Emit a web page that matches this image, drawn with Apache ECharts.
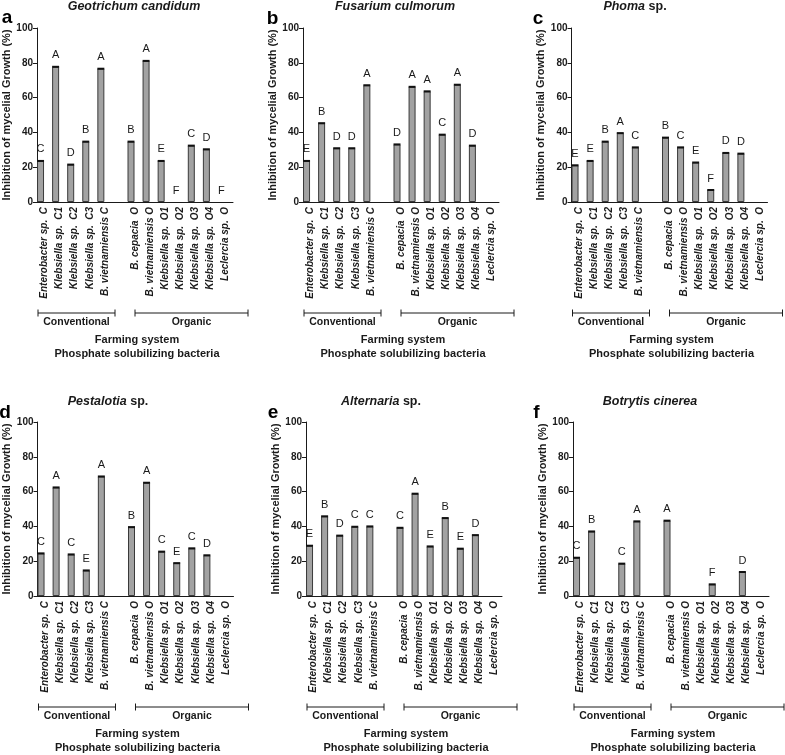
<!DOCTYPE html>
<html><head><meta charset="utf-8">
<script src="https://cdn.jsdelivr.net/npm/echarts@6/dist/echarts.min.js"></script>
<style>html,body{margin:0;padding:0;background:#fff}#c{width:785px;height:755px}</style>
</head><body><div id="c"></div>
<script>
// ---------- data ----------
const categories = ['Enterobacter sp.  C','Klebsiella sp.  C1','Klebsiella sp.  C2','Klebsiella sp.  C3','B. vietnamiensis C','',
  'B. cepacia  O','B. vietnamiensis O','Klebsiella sp.  O1','Klebsiella sp.  O2','Klebsiella sp.  O3','Klebsiella sp.  O4','Leclercia sp.  O'];
const yTicks = [0, 20, 40, 60, 80, 100];
const groupLabels = ['Conventional', 'Organic'];
const xTitleLines = ['Farming system', 'Phosphate solubilizing bacteria'];
const yTitle = 'Inhibition of mycelial Growth (%)';

const geotrichumValues  = [23.6, 77.7, 21.5, 34.7, 76.6, null, 34.7, 81.1, 23.6, 0, 32.4, 30.3, 0];
const geotrichumLetters = ['C','A','D','B','A','', 'B','A','E','F','C','D','F'];
const fusariumValues    = [23.6, 45.3, 30.9, 30.9, 67.1, null, 33.1, 66.2, 63.6, 38.7, 67.4, 32.4, 0];
const fusariumLetters   = ['E','B','D','D','A','', 'D','A','A','C','A','D',''];
const phomaValues       = [21.1, 23.6, 34.7, 39.6, 31.4, null, 37.0, 31.4, 22.7, 6.9, 28.2, 27.8, 0];
const phomaLetters      = ['E','E','B','A','C','', 'B','C','E','F','D','D',''];
const pestalotiaValues  = [24.5, 62.4, 23.9, 14.7, 68.7, null, 39.6, 65.1, 25.5, 18.9, 27.4, 23.4, 0];
const pestalotiaLetters = ['C','A','C','E','A','', 'B','A','C','E','C','D',''];
const alternariaValues  = [28.9, 45.8, 34.7, 39.8, 40.0, null, 39.2, 58.8, 28.5, 44.8, 27.2, 35.0, 0];
const alternariaLetters = ['E','B','D','C','C','', 'C','A','E','B','E','D',''];
const botrytisValues    = [22.0, 37.1, 0, 18.6, 42.9, null, 43.3, 0, 0, 6.7, 0, 13.8, 0];
const botrytisLetters   = ['C','B','','C','A','', 'A','','','F','','D',''];

const panelKeys   = ['a','b','c','d','e','f'];
const panelTitles = ['{i|Geotrichum candidum}', '{i|Fusarium culmorum}', '{i|Phoma}{n| sp.}',
                     '{i|Pestalotia}{n| sp.}', '{i|Alternaria}{n| sp.}', '{i|Botrytis cinerea}'];
const panelValues  = [geotrichumValues, fusariumValues, phomaValues, pestalotiaValues, alternariaValues, botrytisValues];
const panelLetters = [geotrichumLetters, fusariumLetters, phomaLetters, pestalotiaLetters, alternariaLetters, botrytisLetters];

// ---------- layout ----------
const FONT = '"Liberation Sans", Arial, sans-serif';
const gridLefts = [37, 303, 571.5, 37.5, 306, 573];
const rowTops = [28, 422];
const plotW = 196, plotH = 174;
const nameGaps = [22, 18, 19, 21, 23, 20];
const titleX = [134, 395, 635, 108, 381, 650];
const titleY = [7, 401.5];
const letterPos = [[7,18],[272.5,19],[538,19],[5,412.5],[273,412.5],[536.5,412.5]];

const grids = [], xAxes = [], yAxes = [], series = [], graphics = [];
const ink = '#1a1a1a';

panelKeys.forEach((k, p) => {
  const row = p < 3 ? 0 : 1;
  const L = gridLefts[p], T = rowTops[row], B = T + plotH;
  grids.push({left: L, top: T, width: plotW, height: plotH, containLabel: false, outerBoundsMode: 'none'});
  xAxes.push({
    type: 'category', gridIndex: p, data: categories,
    axisLine: {lineStyle: {color: ink, width: 1}},
    axisTick: {alignWithLabel: true, length: 4, lineStyle: {color: ink}},
    axisLabel: {rotate: 90, interval: 0, margin: 5, fontFamily: FONT, fontSize: 10, fontWeight: 'bold', fontStyle: 'italic', color: ink}
  });
  yAxes.push({
    type: 'value', gridIndex: p, min: yTicks[0], max: yTicks[yTicks.length - 1], interval: yTicks[1] - yTicks[0],
    name: yTitle, nameLocation: 'middle', nameGap: nameGaps[p], nameRotate: 90,
    nameTextStyle: {fontFamily: FONT, fontSize: 11, fontWeight: 'bold', color: ink},
    axisLine: {show: true, lineStyle: {color: ink, width: 1}},
    axisTick: {show: true, length: 4, lineStyle: {color: ink}},
    axisLabel: {fontFamily: FONT, fontSize: 10, fontWeight: 'bold', color: ink, margin: 4},
    splitLine: {show: false}
  });
  const vals = panelValues[p], lets = panelLetters[p];
  series.push({
    type: 'bar', xAxisIndex: p, yAxisIndex: p, barWidth: 7, barGap: '100%',
    data: vals.map(v => v === 0 ? {value: 0, itemStyle: {borderWidth: 0, color: 'rgba(0,0,0,0)'}} : v),
    itemStyle: {color: '#a2a2a2', borderColor: '#3a3a3a', borderWidth: 1},
    label: {show: true, position: 'top', distance: 6, fontFamily: FONT, fontSize: 11, color: ink,
      formatter: (d) => lets[d.dataIndex] || ''},
    silent: true, animation: false
  });
  series.push({
    type: 'bar', xAxisIndex: p, yAxisIndex: p, data: vals.map(() => null), barWidth: 1, barGap: '100%',
    silent: true, animation: false
  });
  series.push({
    type: 'custom', xAxisIndex: p, yAxisIndex: p, z: 5, silent: true, animation: false,
    data: vals.map((v, i) => [i, v]),
    renderItem: (params, api) => {
      const v = api.value(1);
      if (!v) return null;
      const pt = api.coord([api.value(0), v]);
      return {type: 'rect', shape: {x: pt[0] - 7.5, y: pt[1] - 1, width: 7, height: 2}, style: {fill: '#111'}};
    }
  });

  // panel title & letter
  graphics.push({type: 'text', x: titleX[p], y: titleY[row], silent: true,
    style: {text: panelTitles[p], align: 'center', verticalAlign: 'middle', fill: ink,
      rich: {i: {fontFamily: FONT, fontSize: 12.5, fontWeight: 'bold', fontStyle: 'italic', fill: ink},
             n: {fontFamily: FONT, fontSize: 12.5, fontWeight: 'bold', fill: ink}}}});
  graphics.push({type: 'text', x: letterPos[p][0], y: letterPos[p][1], silent: true,
    style: {text: k, align: 'center', verticalAlign: 'middle', fill: '#000', font: 'bold 19px ' + FONT}});

  // group brackets
  const by = B + 111;
  const brackets = [[L + 1, L + 78], [L + 98, L + 211]];
  brackets.forEach((br, j) => {
    graphics.push({type: 'line', silent: true, shape: {x1: br[0], y1: by, x2: br[1], y2: by}, style: {stroke: ink, lineWidth: 1}});
    graphics.push({type: 'line', silent: true, shape: {x1: br[0], y1: by - 3.5, x2: br[0], y2: by + 3.5}, style: {stroke: ink, lineWidth: 1}});
    graphics.push({type: 'line', silent: true, shape: {x1: br[1], y1: by - 3.5, x2: br[1], y2: by + 3.5}, style: {stroke: ink, lineWidth: 1}});
    graphics.push({type: 'text', x: (br[0] + br[1]) / 2, y: by + 9, silent: true,
      style: {text: groupLabels[j], align: 'center', verticalAlign: 'middle', fill: ink, font: 'bold 10.5px ' + FONT}});
  });
  graphics.push({type: 'text', x: L + 100, y: B + 138, silent: true,
    style: {text: xTitleLines[0], align: 'center', verticalAlign: 'middle', fill: ink, font: 'bold 11px ' + FONT}});
  graphics.push({type: 'text', x: L + 100, y: B + 152, silent: true,
    style: {text: xTitleLines[1], align: 'center', verticalAlign: 'middle', fill: ink, font: 'bold 11px ' + FONT}});
});

const chart = echarts.init(document.getElementById('c'), null, {renderer: 'canvas'});
chart.setOption({
  animation: false,
  backgroundColor: '#fff',
  grid: grids, xAxis: xAxes, yAxis: yAxes, series: series, graphic: graphics
});
</script></body></html>
